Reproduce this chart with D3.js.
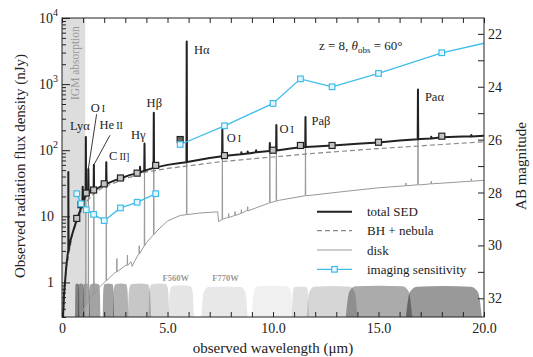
<!DOCTYPE html>
<head>
<meta charset="utf-8">
<script src="https://d3js.org/d3.v7.min.js"></script>
<style>
  body { margin:0; background:#fff; }
  text { font-family: "Liberation Serif", "Times New Roman", serif; fill:#222; }
  .axis path { display:none; }
  .axis line { stroke:#222; stroke-width:1; }
</style>
</head>
<body>
<script>
// total SED continuum (observed wavelength in micron, flux in nJy)
var sedLam  = [0.05, 0.1, 0.2, 0.3, 0.4, 0.55, 0.72, 0.85, 0.96, 1.08, 1.17, 1.3, 1.56, 2.04, 2.5, 2.83, 3.2, 3.57, 4.0, 4.45, 5, 5.6, 6, 7, 7.7, 8, 9, 10, 11, 12, 13, 14, 15, 16, 17, 18, 19, 20];
var sedFlux = [0.3, 0.7, 1.7, 3.0, 4.3, 6.3, 9.3, 12, 15.5, 19.5, 22, 23.5, 25, 31, 35, 38, 42, 45, 50, 55, 60, 64, 67, 76, 82, 84, 91, 98, 108, 114, 119, 125, 131, 140, 148, 157, 161, 165];
// emission lines on the total SED: wavelength, base, peak
var lineLam  = [0.30, 0.98, 1.13, 1.25, 1.51, 2.10, 3.70, 3.91, 4.35, 5.91, 7.60, 8.50, 8.80, 9.20, 9.85, 10.16, 11.54, 16.87, 17.5, 19.4];
var lineBase = [3.0, 15.5, 20.5, 22.5, 24.3, 31, 46, 49, 54, 66, 81, 87, 89, 93, 97, 99, 112, 147, 150, 161];
var linePeak = [47, 28, 158, 52, 60, 66, 56, 126, 370, 4400, 218, 93, 96, 100, 129, 240, 318, 830, 160, 170];

// BH + nebula
var bhLam  = [0.05, 0.2, 0.5, 1.0, 1.5, 2, 3, 4, 5, 6, 7.5, 10, 12, 15, 18, 20];
var bhFlux = [0.3, 1.6, 5.5, 14.5, 22, 28, 37, 47, 53, 58, 67, 79, 90, 106, 122, 134];

// disk continuum and its lines
var diskLam  = [0.85, 1.0, 1.2, 1.4, 1.7, 2.0, 2.5, 3.0, 3.28, 3.32, 3.6, 4.0, 4.5, 5.0, 5.6, 6.5, 7.38, 7.42, 7.8, 8.75, 10.3, 11.9, 13.5, 15, 17, 20];
var diskFlux = [0.3, 0.38, 0.5, 0.62, 0.8, 1.0, 1.4, 1.8, 2.05, 1.75, 2.6, 4.0, 6.0, 8.5, 10.3, 11.2, 11.7, 8.3, 9.5, 12.3, 17.5, 21, 24, 27, 30, 35];
var diskLineLam  = [1.13, 1.25, 1.51, 2.10, 2.6, 3.1, 3.66, 3.91, 4.35, 5.91, 7.60, 7.9, 8.2, 8.5, 8.8, 9.85, 10.16, 11.54, 16.3, 16.87, 17.5, 19.4];
var diskLineBase = [0.45, 0.5, 0.66, 1.06, 1.45, 1.82, 2.7, 3.6, 5.3, 10.6, 9.0, 9.6, 10.3, 11.1, 12.1, 16, 17, 20.5, 29, 30, 31, 34];
var diskLinePeak = [158, 52, 60, 66, 2.3, 2.6, 3.6, 126, 370, 4400, 218, 11, 11.8, 12.6, 14, 129, 240, 318, 32, 830, 34, 37];

// band-averaged SED (black squares)
var bandLam  = [0.70, 0.90, 1.15, 1.50, 2.00, 2.77, 3.56, 4.44, 5.6, 7.7, 10.0, 11.3, 12.8, 15.0, 18.0];
var bandFlux = [9.3, 15, 22.5, 25, 31, 38, 45, 59, 145, 83, 100, 118, 118, 132, 163];

// imaging sensitivity (NIRCam, then MIRI)
var nircamLam  = [0.70, 0.90, 1.15, 1.50, 2.00, 2.77, 3.56, 4.44];
var nircamSens = [22, 15.5, 12.6, 10.7, 8.6, 13.4, 16.3, 22];
var miriLam  = [5.6, 7.7, 10.0, 11.3, 12.8, 15.0, 18.0, 21.0];
var miriSens = [122, 234, 510, 1200, 910, 1450, 2980, 4900];

// filter transmission curves
var filterNames = ["F070W","F090W","F115W","F150W","F200W","F277W","F356W","F444W","F560W","F770W","F1000W","F1130W","F1280W","F1500W","F1800W"];
var filterLo    = [0.62, 0.77, 0.99, 1.28, 1.93, 2.42, 3.12, 4.10, 5.05, 6.6, 9.0, 10.9, 11.6, 13.45, 16.3];
var filterHi    = [0.82, 1.04, 1.33, 1.82, 2.47, 3.14, 4.22, 5.08, 6.25, 8.8, 10.95, 11.7, 14.0, 16.6, 19.9];
var filterPeak  = [0.93, 0.93, 0.93, 0.93, 0.93, 0.93, 0.93, 0.93, 0.88, 0.85, 0.87, 0.85, 0.86, 0.87, 0.86];
var filterShade = [0.42, 0.36, 0.32, 0.36, 0.36, 0.30, 0.22, 0.15, 0.10, 0.09, 0.06, 0.12, 0.16, 0.33, 0.40];
var filterLabeled = ["F560W", "F770W"];

// line labels: text, anchor wavelength, anchor flux
var labText = ["Lyα", "O|I", "He|II", "C|II]", "Hγ", "Hβ", "Hα", "O|I", "O|I", "Paβ", "Paα"];
var labLam  = [0.38, 1.36, 1.78, 2.23, 3.27, 4.01, 6.25, 7.81, 10.31, 11.83, 17.2];
var labFlux = [202, 382, 209, 71, 146, 446, 2850, 134, 184, 240, 561];
// leader lines for O I and He II
var leadFrom = [[1.64, 350], [2.27, 168]];
var leadTo   = [[1.25, 53], [1.51, 60]];

var W = 533, H = 357;
var pL = 62, pR = 484, pT = 18, pB = 317;
var cyan = "#3dbde9";

var svg = d3.select("body").append("svg").attr("width", W).attr("height", H);

var x = d3.scaleLinear().domain([0, 20]).range([pL, pR]);
var y = d3.scaleLog().domain([0.3, 1e4]).range([pB, pT]);
var tScale = d3.scaleLinear().domain([0, 1]).range([pB, 281]);
// AB magnitude from nJy: m = 31.4 - 2.5 log10(f)
var mag = d3.scaleLinear().domain([31.4 - 2.5 * Math.log10(0.3), 31.4 - 2.5 * 4]).range([pB, pT]);

svg.append("clipPath").attr("id", "clip").append("rect")
  .attr("x", pL).attr("y", pT).attr("width", pR - pL).attr("height", pB - pT);
var plot = svg.append("g").attr("clip-path", "url(#clip)");

// IGM absorption band
plot.append("rect").attr("x", x(0)).attr("y", pT).attr("width", x(1.1) - x(0)).attr("height", pB - pT)
  .attr("fill", "#dddddd");
svg.append("text").attr("transform", "translate(79,100) rotate(-90)")
  .style("font-size", "11.5px").style("fill", "#999").text("IGM absorption");

// filters
var filterArea = d3.area().x(function(d){ return x(d[0]); }).y0(pB).y1(function(d){ return tScale(d[1]); })
  .curve(d3.curveMonotoneX);
filterNames.forEach(function(n, i){
  var lo = filterLo[i], hi = filterHi[i], w = hi - lo, p = filterPeak[i];
  var pts = [[lo, 0], [lo + 0.05*w, 0.8*p], [lo + 0.14*w, 0.98*p], [(lo+hi)/2, p],
             [hi - 0.14*w, 0.98*p], [hi - 0.05*w, 0.8*p], [hi, 0]];
  plot.append("path").attr("d", filterArea(pts)).attr("fill", "#000").attr("fill-opacity", filterShade[i]);
  if (filterLabeled.indexOf(n) >= 0) {
    svg.append("text").attr("x", x(lo) + (n == "F560W" ? -6 : 11)).attr("y", 281)
      .style("font-size", "8.5px").style("font-weight", "bold").style("fill", "#999").text(n);
  }
});

// build a spectrum path: continuum plus narrow spikes
function spectrum(lam, flux, lLam, lBase, lPeak) {
  var pts = lam.map(function(l, i){ return [l, flux[i]]; });
  lLam.forEach(function(l, i){
    pts.push([l - 0.012, lBase[i]], [l, lPeak[i]], [l + 0.012, lBase[i]]);
  });
  pts.sort(function(a, b){ return a[0] - b[0]; });
  return pts;
}
var line = d3.line().x(function(d){ return x(d[0]); }).y(function(d){ return y(d[1]); });

plot.append("path").attr("d", line(spectrum(diskLam, diskFlux, diskLineLam, diskLineBase, diskLinePeak)))
  .attr("fill", "none").attr("stroke", "#999").attr("stroke-width", 1);
plot.append("path").attr("d", line(bhLam.map(function(l, i){ return [l, bhFlux[i]]; })))
  .attr("fill", "none").attr("stroke", "#888").attr("stroke-width", 1.2).attr("stroke-dasharray", "5,3");
plot.append("path").attr("d", line(spectrum(sedLam, sedFlux, lineLam, lineBase, linePeak)))
  .attr("fill", "none").attr("stroke", "#222").attr("stroke-width", 2).attr("stroke-linejoin", "round");

// band-averaged squares
plot.selectAll(".band").data(bandLam).enter().append("rect")
  .attr("x", function(d){ return x(d) - 3; }).attr("y", function(d, i){ return y(bandFlux[i]) - 3; })
  .attr("width", 6).attr("height", 6)
  .attr("fill", function(d){ return d == 5.6 ? "#666" : "#c4c4c4"; }).attr("stroke", "#222").attr("stroke-width", 1.2);

// imaging sensitivity
[[nircamLam, nircamSens], [miriLam, miriSens]].forEach(function(s){
  var pts = s[0].map(function(l, i){ return [l, s[1][i]]; });
  plot.append("path").attr("d", line(pts)).attr("fill", "none").attr("stroke", cyan).attr("stroke-width", 1.3);
  plot.selectAll(null).data(pts).enter().append("rect")
    .attr("x", function(d){ return x(d[0]) - 2.8; }).attr("y", function(d){ return y(d[1]) - 2.8; })
    .attr("width", 5.6).attr("height", 5.6).attr("fill", "#e8f7fd").attr("stroke", cyan).attr("stroke-width", 1.2);
});

// line labels
labText.forEach(function(t, i){
  var txt = svg.append("text").attr("x", x(labLam[i])).attr("y", y(labFlux[i])).style("font-size", "12.5px");
  var parts = t.split("|");
  txt.append("tspan").text(parts[0]);
  if (parts.length > 1) txt.append("tspan").attr("dx", 2).style("font-size", "10px").text(parts[1]);
});
leadFrom.forEach(function(f, i){
  svg.append("line").attr("x1", x(f[0])).attr("y1", y(f[1])).attr("x2", x(leadTo[i][0])).attr("y2", y(leadTo[i][1]))
    .attr("stroke", "#222").attr("stroke-width", 0.9);
});

// redshift / angle note
var note = svg.append("text").attr("x", 319).attr("y", 50).style("font-size", "13px");
note.append("tspan").text("z = 8, ");
note.append("tspan").style("font-style", "italic").text("θ");
note.append("tspan").attr("dy", 3).style("font-size", "9px").text("obs");
note.append("tspan").attr("dy", -3).text(" = 60°");

// axes
function inward(g){ g.attr("class", "axis"); }
svg.append("g").attr("transform", "translate(0," + pB + ")").call(inward)
  .call(d3.axisBottom(x).tickValues(d3.range(0, 21)).tickSize(-5).tickFormat(""));
svg.append("g").attr("transform", "translate(0," + pT + ")").call(inward)
  .call(d3.axisTop(x).tickValues(d3.range(0, 21)).tickSize(-5).tickFormat(""));
var xl = svg.append("g").attr("transform", "translate(0," + pB + ")").call(inward)
  .call(d3.axisBottom(x).tickValues([0, 5, 10, 15, 20]).tickSize(0).tickPadding(6)
    .tickFormat(function(d){ return d == 0 ? "0" : d.toFixed(1); }));
xl.selectAll("text").style("font-size", "14px").attr("fill", "#222");

var decades = [1, 10, 100, 1000, 10000];
var minors = [];
[0.1, 1, 10, 100, 1000].forEach(function(b){ for (var k = 2; k <= 9; k++) { if (b*k >= 0.3) minors.push(b*k); } });
svg.append("g").attr("transform", "translate(" + pL + ",0)").call(inward)
  .call(d3.axisLeft(y).tickValues(decades).tickSize(-8).tickFormat(""));
svg.append("g").attr("transform", "translate(" + pL + ",0)").call(inward)
  .call(d3.axisLeft(y).tickValues(minors).tickSize(-4).tickFormat(""));
decades.forEach(function(v){
  var e = Math.round(Math.log10(v));
  var t = svg.append("text").attr("x", 54).attr("y", y(v) + 5).style("font-size", "14px");
  if (e <= 1) { t.attr("text-anchor", "end").text(v); }
  else {
    t.attr("text-anchor", "start").attr("x", 39);
    t.append("tspan").text("10");
    t.append("tspan").attr("dy", -7).style("font-size", "10px").text(e);
  }
});

svg.append("g").attr("transform", "translate(" + pR + ",0)").call(inward)
  .call(d3.axisRight(mag).tickValues(d3.range(22, 33)).tickSize(-6).tickFormat(""));
var ml = svg.append("g").attr("transform", "translate(" + pR + ",0)").call(inward)
  .call(d3.axisRight(mag).tickValues([22, 24, 26, 28, 30, 32]).tickSize(0).tickPadding(4));
ml.selectAll("text").style("font-size", "14px").attr("fill", "#222");

svg.append("rect").attr("x", pL).attr("y", pT).attr("width", pR - pL).attr("height", pB - pT)
  .attr("fill", "none").attr("stroke", "#222").attr("stroke-width", 1);

// titles
svg.append("text").attr("x", (pL + pR) / 2).attr("y", 353).attr("text-anchor", "middle")
  .style("font-size", "15px").text("observed wavelength (μm)");
svg.append("text").attr("transform", "translate(25,166) rotate(-90)").attr("text-anchor", "middle")
  .style("font-size", "15px").text("Observed radiation flux density (nJy)");
svg.append("text").attr("transform", "translate(526,166) rotate(-90)").attr("text-anchor", "middle")
  .style("font-size", "15px").text("AB magnitude");

// legend
var legNames = ["total SED", "BH + nebula", "disk", "imaging sensitivity"];
var legY = [211.7, 230.7, 250, 269.3];
legNames.forEach(function(n, i){
  var g = svg.append("g");
  var l = g.append("line").attr("x1", 317).attr("x2", 352).attr("y1", legY[i]).attr("y2", legY[i]);
  if (i == 0) l.attr("stroke", "#222").attr("stroke-width", 2);
  if (i == 1) l.attr("stroke", "#888").attr("stroke-width", 1.2).attr("stroke-dasharray", "5,3");
  if (i == 2) l.attr("stroke", "#999").attr("stroke-width", 1.2);
  if (i == 3) {
    l.attr("stroke", cyan).attr("stroke-width", 1.3);
    g.append("rect").attr("x", 334.5 - 2.8).attr("y", legY[i] - 2.8).attr("width", 5.6).attr("height", 5.6)
      .attr("fill", "#e8f7fd").attr("stroke", cyan).attr("stroke-width", 1.2);
  }
  g.append("text").attr("x", 367).attr("y", legY[i] + 4.5).style("font-size", "13px").text(n);
});
</script>
</body>
